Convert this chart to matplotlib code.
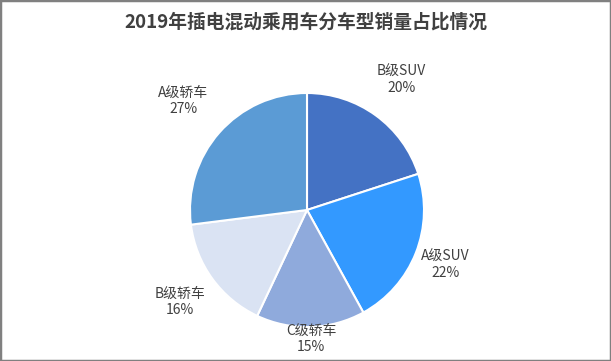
import numpy as np
import matplotlib
matplotlib.use("Agg")
import matplotlib.pyplot as plt
from matplotlib.patches import Rectangle

plt.rcParams['font.family'] = ['Noto Sans CJK SC', 'DejaVu Sans']

title = "2019年插电混动乘用车分车型销量占比情况"
categories = ["B级SUV", "A级SUV", "C级轿车", "B级轿车", "A级轿车"]
shares = [20, 22, 15, 16, 27]
colors = ["#4472C4", "#3399FF", "#8FAADC", "#DAE3F3", "#5B9BD5"]
label_dist = [1.37, 1.27, 1.10, 1.34, 1.41]

fig = plt.figure(figsize=(6.11, 3.61), dpi=100)
W, H = 611, 361
cx, cy, R = 307, 210, 117
ax = fig.add_axes([(cx - R) / W, (H - cy - R) / H, 2 * R / W, 2 * R / H])
wedges, _ = ax.pie(shares, colors=colors, startangle=90, counterclock=False,
                   radius=1.0, wedgeprops=dict(edgecolor="white", linewidth=1.5))
ax.set_xlim(-1, 1)
ax.set_ylim(-1, 1)
ax.set_aspect('equal')
ax.axis('off')

for w, cat, s, d in zip(wedges, categories, shares, label_dist):
    mid = np.deg2rad((w.theta1 + w.theta2) / 2)
    ax.text(d * np.cos(mid), d * np.sin(mid), f"{cat}\n{s}%", ha='center', va='center',
            fontsize=10, color="#404040", linespacing=1.2, clip_on=False)

fig.text(0.5, 1 - 22 / H, title, ha='center', va='center', fontsize=13.5,
         color="#404040", fontweight='bold')

fig.patches.append(Rectangle((0, 0), 1, 1, transform=fig.transFigure, fill=False,
                             edgecolor="#808080", linewidth=2.5, zorder=10))

fig.savefig("out.png", dpi=100)
